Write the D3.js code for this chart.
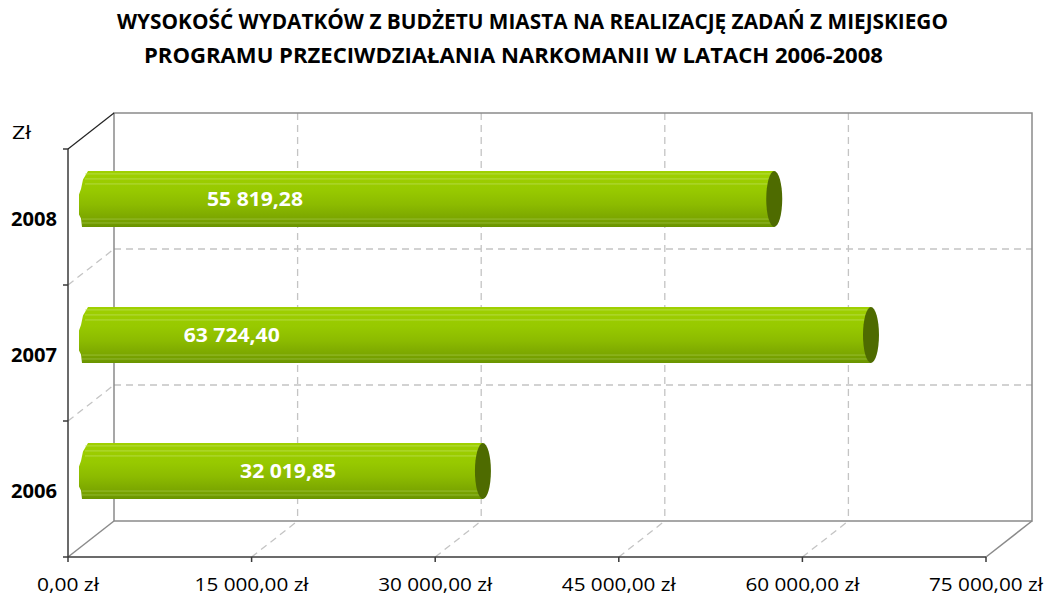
<!DOCTYPE html>
<html>
<head>
<meta charset="utf-8">
<script src="https://cdn.jsdelivr.net/npm/d3@7/dist/d3.min.js"></script>
<style>
html,body{margin:0;padding:0;background:#fff;}
svg{display:block;font-family:"Open Sans","DejaVu Sans",sans-serif;}
</style>
</head>
<body>
<svg id="chart" width="1050" height="601"></svg>
<script>
// ---- data ----
const titleLines = [
  "WYSOKOŚĆ WYDATKÓW Z BUDŻETU MIASTA NA REALIZACJĘ ZADAŃ Z MIEJSKIEGO",
  "PROGRAMU PRZECIWDZIAŁANIA NARKOMANII W LATACH 2006-2008"
];
const categories = ["2006", "2007", "2008"];
const values = [32019.85, 63724.40, 55819.28];
const valueLabels = ["32 019,85", "63 724,40", "55 819,28"];
const labelAnchors = [16100, 11500, 13400]; // value-axis position where Excel put each data label
const xTicks = [0, 15000, 30000, 45000, 60000, 75000];
const xTickLabels = ["0,00 zł", "15 000,00 zł", "30 000,00 zł", "45 000,00 zł", "60 000,00 zł", "75 000,00 zł"];
const yAxisUnit = "Zł";

// ---- layout ----
const svg = d3.select("#chart");
const front = {left: 68, right: 986, top: 149, bottom: 557};
const depth = {dx: 46, dy: -36};

const x = d3.scaleLinear().domain([0, 75000]).range([front.left, front.right]);
const y = d3.scaleBand().domain(categories.slice().reverse()).range([front.top, front.bottom]).paddingInner(0).paddingOuter(0);

const back = {left: front.left + depth.dx, right: front.right + depth.dx, top: front.top + depth.dy, bottom: front.bottom + depth.dy};

// defs
const defs = svg.append("defs");
const grad = defs.append("linearGradient").attr("id", "barGrad").attr("x1", 0).attr("y1", 0).attr("x2", 0).attr("y2", 1);
[[0, "#9fd000"], [0.35, "#97c900"], [0.6, "#8cbb00"], [0.85, "#7ba600"], [1, "#6a9400"]].forEach(([o, c]) =>
  grad.append("stop").attr("offset", o).attr("stop-color", c));

// title
const titleGeom = [{cx: 532.5, len: 831, y: 29}, {cx: 513.5, len: 739, y: 63}];
svg.append("g").selectAll("text").data(titleLines).join("text")
  .attr("x", (d, i) => titleGeom[i].cx).attr("y", (d, i) => titleGeom[i].y)
  .attr("text-anchor", "middle")
  .attr("font-weight", "bold").attr("font-size", 21)
  .attr("textLength", (d, i) => titleGeom[i].len)
  .attr("lengthAdjust", "spacingAndGlyphs")
  .attr("fill", "#000")
  .text(d => d);

const grid = svg.append("g");
const dash = "7,5";
const gridColor = "#c4c4c4";
const midTicks = xTicks.slice(1, -1);

// back wall vertical dashed gridlines
grid.selectAll(".vg").data(midTicks).join("line")
  .attr("x1", d => x(d) + depth.dx).attr("x2", d => x(d) + depth.dx)
  .attr("y1", back.top).attr("y2", back.bottom)
  .attr("stroke", gridColor).attr("stroke-width", 1.3).attr("stroke-dasharray", dash);
// floor diagonals
grid.selectAll(".fg").data(midTicks).join("line")
  .attr("x1", d => x(d)).attr("y1", front.bottom)
  .attr("x2", d => x(d) + depth.dx).attr("y2", back.bottom)
  .attr("stroke", gridColor).attr("stroke-width", 1.3).attr("stroke-dasharray", dash);

// category boundaries
const catBounds = categories.slice(1).map((c, i) => y(categories.slice().reverse()[i]) + y.bandwidth());
grid.selectAll(".hg").data(catBounds).join("line")
  .attr("x1", back.left).attr("x2", back.right)
  .attr("y1", d => d + depth.dy).attr("y2", d => d + depth.dy)
  .attr("stroke", gridColor).attr("stroke-width", 1.3).attr("stroke-dasharray", dash);
grid.selectAll(".sg").data(catBounds).join("line")
  .attr("x1", front.left).attr("y1", d => d)
  .attr("x2", back.left).attr("y2", d => d + depth.dy)
  .attr("stroke", gridColor).attr("stroke-width", 1.3).attr("stroke-dasharray", dash);

// walls frame (gray)
const frameColor = "#8a8a8a";
const frame = svg.append("g").attr("stroke", frameColor).attr("stroke-width", 1.5).attr("fill", "none");
frame.append("path").attr("d", `M${back.left},${back.bottom} L${back.left},${back.top} L${back.right},${back.top} L${back.right},${back.bottom} Z`);
frame.append("line").attr("x1", front.left).attr("y1", front.bottom).attr("x2", back.left).attr("y2", back.bottom);
frame.append("line").attr("x1", front.right).attr("y1", front.bottom).attr("x2", back.right).attr("y2", back.bottom);

// bars (cylinders) at mid depth
const mid = {dx: depth.dx / 2, dy: depth.dy / 2};
const barH = y.bandwidth() * 0.41;
const bars = svg.append("g");
categories.forEach((c, i) => {
  const cy = y(c) + y.bandwidth() / 2 + mid.dy;
  const top = cy - barH / 2, bot = cy + barH / 2;
  const x0 = x(0) + mid.dx - 12;
  const x1 = x(values[i]) + mid.dx;
  const g = bars.append("g");
  const h = barH;
  g.append("path")
    .attr("d", `M${x0 + 9},${top} L${x1},${top} L${x1},${bot} L${x0 + 3},${bot} L${x0 + 2},${top + 0.85 * h} L${x0},${top + 0.78 * h} L${x0},${top + 0.42 * h} L${x0 + 2},${top + 0.32 * h} L${x0 + 4},${top + 0.15 * h} Z`)
    .attr("fill", "url(#barGrad)");
  // texture stripes
  [0.05, 0.14, 0.23, 0.86, 0.93].forEach((f, k) => {
    g.append("line")
      .attr("x1", x0 + (f < 0.3 ? 6 : 3)).attr("x2", x1)
      .attr("y1", top + f * h).attr("y2", top + f * h)
      .attr("stroke", k < 3 ? "#c6e56a" : "#a9cc50")
      .attr("stroke-opacity", 0.6).attr("stroke-width", 1);
  });
  // end cap
  g.append("ellipse")
    .attr("cx", x1).attr("cy", cy).attr("rx", 8).attr("ry", h / 2)
    .attr("fill", "#4e6b00");
  // value label
  g.append("text")
    .attr("x", x(labelAnchors[i]) + mid.dx).attr("y", cy)
    .attr("dy", "0.36em")
    .attr("text-anchor", "middle")
    .attr("font-weight", "bold").attr("font-size", 20)
    .attr("textLength", 96).attr("lengthAdjust", "spacingAndGlyphs")
    .attr("fill", "#fff")
    .text(valueLabels[i]);
});

// front axes
const axisColor = "#3a3a3a";
const ax = svg.append("g").attr("stroke", axisColor).attr("stroke-width", 1.5);
ax.append("line").attr("x1", front.left).attr("x2", front.right).attr("y1", front.bottom).attr("y2", front.bottom);
ax.append("line").attr("x1", front.left).attr("x2", front.left).attr("y1", front.top).attr("y2", front.bottom);
ax.append("line").attr("x1", front.left).attr("y1", front.top).attr("x2", back.left).attr("y2", back.top).attr("stroke", "#222").attr("stroke-width", 1.2);
// ticks
ax.selectAll(".xt").data(xTicks).join("line")
  .attr("x1", d => x(d)).attr("x2", d => x(d)).attr("y1", front.bottom).attr("y2", front.bottom + 5);
const yTickPos = [front.top].concat(categories.slice().reverse().map(c => y(c) + y.bandwidth()));
ax.selectAll(".yt").data(yTickPos).join("line")
  .attr("x1", front.left - 5).attr("x2", front.left).attr("y1", d => d).attr("y2", d => d);

// tick labels
svg.append("g").selectAll("text").data(xTicks).join("text")
  .attr("x", d => x(d)).attr("y", 591)
  .attr("text-anchor", "middle").attr("font-size", 18.5)
  .attr("textLength", (d, i) => i === 0 ? 62 : 114)
  .attr("lengthAdjust", "spacingAndGlyphs")
  .attr("fill", "#000")
  .text((d, i) => xTickLabels[i]);

svg.append("g").selectAll("text").data(categories).join("text")
  .attr("x", 57).attr("y", d => y(d) + y.bandwidth() / 2 + 2)
  .attr("dy", "0.35em")
  .attr("text-anchor", "end").attr("font-weight", "bold").attr("font-size", 20)
  .attr("textLength", 46).attr("lengthAdjust", "spacingAndGlyphs")
  .attr("fill", "#000")
  .text(d => d);

svg.append("text").attr("x", 12).attr("y", 139).attr("font-size", 19)
  .attr("textLength", 19).attr("lengthAdjust", "spacingAndGlyphs")
  .attr("fill", "#000").text(yAxisUnit);
</script>
</body>
</html>
